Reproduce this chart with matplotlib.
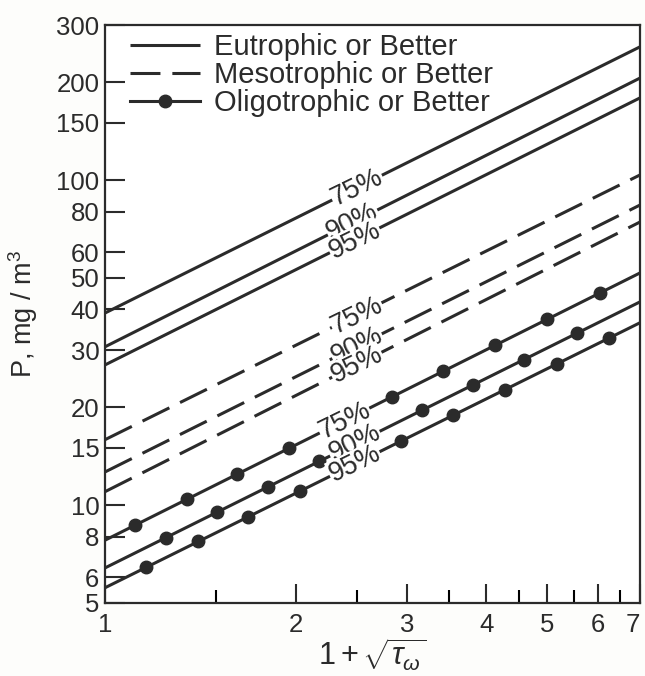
import matplotlib
matplotlib.use('Agg')
import matplotlib.pyplot as plt
import matplotlib.transforms as mtransforms
from matplotlib.ticker import FixedLocator, NullFormatter

plt.rcParams['font.family'] = ['Liberation Sans', 'DejaVu Sans']
plt.rcParams['mathtext.fontset'] = 'custom'
plt.rcParams['mathtext.rm'] = 'Liberation Sans'
plt.rcParams['mathtext.it'] = 'Liberation Sans:italic'

ink = '#2b2b2b'

# line end points at x = 1 and x = 7
x_ends = [1, 7]
eutro_75 = [39.0, 257.0]
eutro_90 = [30.7, 206.0]
eutro_95 = [27.0, 179.0]
meso_75 = [15.9, 103.7]
meso_90 = [12.65, 83.8]
meso_95 = [11.0, 74.3]
oligo_75 = [7.8, 51.8]
oligo_90 = [6.41, 42.2]
oligo_95 = [5.57, 36.4]

# marker positions on the oligotrophic lines
oligo_75_mx = [1.115, 1.347, 1.616, 1.953, 2.84, 3.42, 4.13, 4.99, 6.05]
oligo_75_my = [8.67, 10.42, 12.44, 14.96, 21.5, 25.8, 31.0, 37.3, 45.0]
oligo_90_mx = [1.248, 1.503, 1.809, 2.178, 3.17, 3.81, 4.59, 5.57]
oligo_90_my = [7.94, 9.51, 11.38, 13.63, 19.58, 23.4, 28.0, 33.8]
oligo_95_mx = [1.161, 1.403, 1.682, 2.03, 2.94, 3.55, 4.28, 5.17, 6.25]
oligo_95_my = [6.43, 7.73, 9.20, 11.02, 15.8, 18.9, 22.6, 27.2, 32.6]

pct_labels = ['75%', '90%', '95%']
eutro_lx = [2.50, 2.46, 2.48]
eutro_ly = [95.0, 74.2, 65.2]
meso_lx = [2.50, 2.50, 2.50]
meso_ly = [38.3, 30.9, 27.0]
oligo_lx = [2.39, 2.48, 2.48]
oligo_ly = [18.2, 15.5, 13.4]

y_ticks = [5, 6, 8, 10, 15, 20, 30, 40, 50, 60, 80, 100, 150, 200, 300]
x_major = [1, 2, 3, 4, 5, 6, 7]
x_minor = [1.5, 2.5, 3.5, 4.5, 5.5, 6.5]

legend_labels = ['Eutrophic or Better', 'Mesotrophic or Better', 'Oligotrophic or Better']

fig = plt.figure(figsize=(6.45, 6.76), dpi=100)
fig.patch.set_facecolor('#fdfdfb')
ax = fig.add_axes([0.1628, 0.108, 0.8294, 0.855])
ax.set_facecolor('white')
ax.set_xscale('log')
ax.set_yscale('log')

lw = 2.2
dash = (9.8, 3.9)
for i, ys in enumerate([eutro_75, eutro_90, eutro_95]):
    ax.plot(x_ends, ys, color=ink, lw=lw, solid_capstyle='butt',
            label=legend_labels[0] if i == 0 else None)
for i, ys in enumerate([meso_75, meso_90, meso_95]):
    ax.plot(x_ends, ys, color=ink, lw=lw, dashes=dash,
            label=legend_labels[1] if i == 0 else None)
for ys in [oligo_75, oligo_90, oligo_95]:
    ax.plot(x_ends, ys, color=ink, lw=lw)
for mx, my in [(oligo_75_mx, oligo_75_my), (oligo_90_mx, oligo_90_my), (oligo_95_mx, oligo_95_my)]:
    ax.plot(mx, my, 'o', color=ink, ms=9, zorder=4)
ax.plot([], [], '-o', color=ink, lw=lw, ms=9, label=legend_labels[2])

for lx, ly in [(eutro_lx, eutro_ly), (meso_lx, meso_ly), (oligo_lx, oligo_ly)]:
    for t, x, y in zip(pct_labels, lx, ly):
        ax.text(x, y, t, fontsize=19.5, color=ink, rotation=26,
                rotation_mode='anchor', ha='center', va='center', zorder=5,
                bbox=dict(facecolor='white', edgecolor='none', pad=0.3))

ax.set_xlim(1, 7)
ax.set_ylim(5, 300)

ax.yaxis.set_major_locator(FixedLocator(y_ticks))
ax.yaxis.set_minor_locator(FixedLocator([]))
ax.set_yticklabels([str(v) for v in y_ticks])
ax.xaxis.set_major_locator(FixedLocator(x_major))
ax.xaxis.set_minor_locator(FixedLocator(x_minor))
ax.set_xticklabels([str(v) for v in x_major])
ax.xaxis.set_minor_formatter(NullFormatter())

ax.tick_params(axis='y', which='major', direction='in', length=14.5, width=1.5,
               labelsize=18.5, colors=ink, pad=4)
ax.tick_params(axis='x', which='major', direction='in', length=14, width=1.5,
               labelsize=18.5, colors=ink, pad=7)
ax.tick_params(axis='x', which='minor', direction='in', length=9.5, width=1.5)
ax.tick_params(top=False, right=False, which='both')
for s in ax.spines.values():
    s.set_linewidth(1.6)
    s.set_color(ink)

# the "7" sits right at the edge, nudge it in a little
last = ax.get_xticklabels()[-1]
last.set_transform(last.get_transform() + mtransforms.ScaledTranslation(-5 / 72, 0, fig.dpi_scale_trans))

ax.set_ylabel('P, mg / m$^3$', fontsize=19.5, color=ink, labelpad=12)
ax.set_xlabel(r'$\mathrm{1} + \sqrt{\tau_\omega}$', fontsize=22, color=ink, labelpad=0)

leg = ax.legend(loc='upper left', bbox_to_anchor=(0.024, 1.006), frameon=False,
                fontsize=21, handlelength=2.4, handletextpad=0.5,
                labelspacing=0.0, numpoints=1, borderaxespad=0)
for t in leg.get_texts():
    t.set_color(ink)

fig.savefig('out.png', dpi=100, facecolor=fig.get_facecolor())
